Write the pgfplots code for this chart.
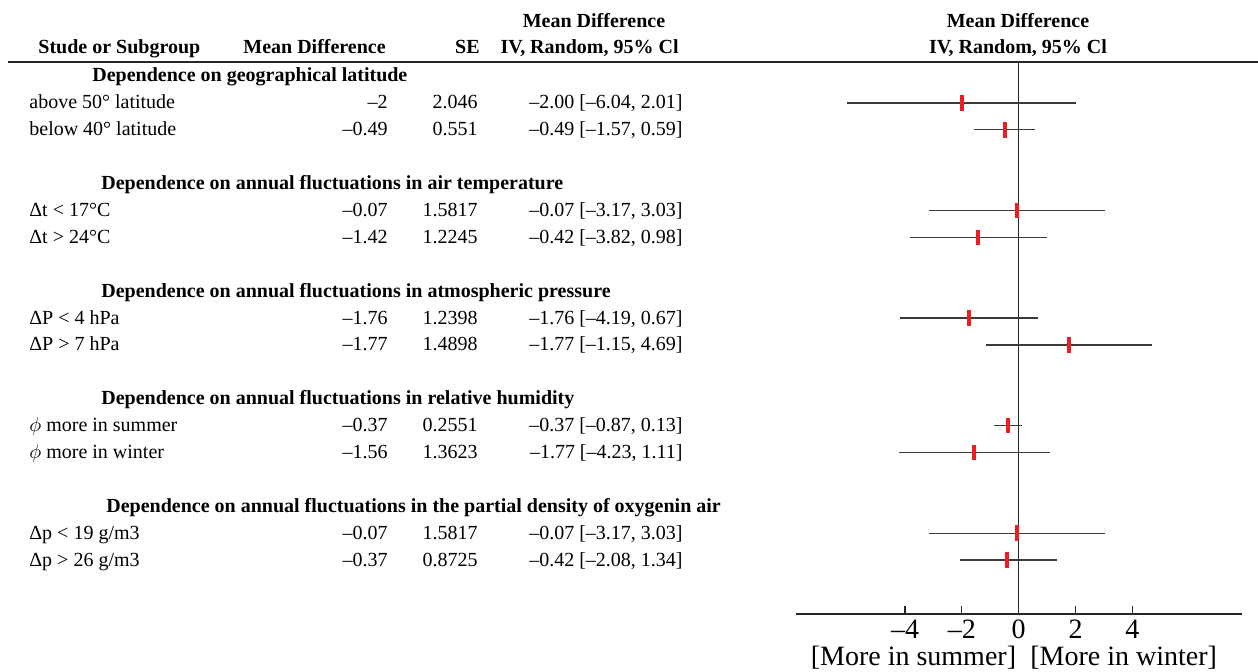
\documentclass[border=0pt]{standalone}
\usepackage{fontspec}
\setmainfont{Liberation Serif}
\usepackage{pgfplots}
\usepackage{pgfplotstable}
\pgfplotsset{compat=1.18}
\definecolor{cired}{HTML}{EE1D23}
\definecolor{cigray}{HTML}{3A3A3A}

% row index, plotted point, lower and upper CI
\pgfplotstableread{
y    pt     lo     hi
-1   -2.00  -6.04  2.01
-2   -0.49  -1.57  0.59
-5   -0.07  -3.17  3.03
-6   -1.42  -3.82  0.98
-9   -1.76  -4.19  0.67
-10   1.77  -1.15  4.69
-13  -0.37  -0.87  0.13
-14  -1.56  -4.23  1.11
-17  -0.07  -3.17  3.03
-18  -0.42  -2.08  1.34
}\forestdata

\begin{document}
\begin{tikzpicture}
\begin{axis}[
  x=14.2pt, y=13.45pt,
  xmin=-7.85, xmax=7.85, ymin=-20, ymax=0.52,
  axis x line*=bottom, axis y line=none,
  xtick={-4,-2,0,2,4},
  xticklabels={\textendash4,\textendash2,0,2,4},
  tick align=inside, major tick length=4pt,
  tick style={line width=0.6pt, color=black!85},
  axis line style={line width=0.6pt, color=black!85},
  xticklabel style={font=\fontsize{14}{16}\selectfont, anchor=base, inner sep=0pt, yshift=-12.5pt},
  clip=false,
]
\addplot[black!85, line width=0.65pt, forget plot] coordinates {(0,0.52) (0,-20)};
\addplot[draw=none, mark=none, forget plot,
  error bars/.cd, x dir=both, x explicit, error mark=none,
  error bar style={line width=0.7pt, draw=cigray}]
  table[x=pt, y=y,
        x error plus expr=\thisrow{hi}-\thisrow{pt},
        x error minus expr=\thisrow{pt}-\thisrow{lo}] {\forestdata};
\addplot[only marks, draw=cired, mark=|, mark size=3.9pt,
  mark options={line width=2pt, draw=cired, solid}]
  table[x=pt, y=y] {\forestdata};
\coordinate (O) at (axis cs:-35.870,2.8253);
\end{axis}
\begin{scope}[shift={(O)}, x=0.5pt, y=-0.5pt, every node/.style={inner sep=0pt, font=\fontsize{10}{12}\selectfont}]
  % headers
  \node[anchor=base] at (594,28) {\bfseries Mean Difference};
  \node[anchor=base] at (1018,28) {\bfseries Mean Difference};
  \node[anchor=base west] at (38,54) {\bfseries Stude or Subgroup};
  \node[anchor=base west] at (243,54) {\bfseries Mean Difference};
  \node[anchor=base east] at (480,54) {\bfseries SE};
  \node[anchor=base east] at (679,54) {\bfseries IV, Random, 95\% Cl};
  \node[anchor=base] at (1018,54) {\bfseries IV, Random, 95\% Cl};
  \draw[line width=0.8pt, black!85] (8,62) -- (1258,62);
  % group headings
  \node[anchor=base west] at (92,{76+26.9*0+6}) {\bfseries Dependence on geographical latitude};
  \node[anchor=base west] at (101,{76+26.9*4+6}) {\bfseries Dependence on annual fluctuations in air temperature};
  \node[anchor=base west] at (101,{76+26.9*8+6}) {\bfseries Dependence on annual fluctuations in atmospheric pressure};
  \node[anchor=base west] at (101,{76+26.9*12+6}) {\bfseries Dependence on annual fluctuations in relative humidity};
  \node[anchor=base west] at (106,{76+26.9*16+6}) {\bfseries Dependence on annual fluctuations in the partial density of oxygenin air};
  % rows
  \foreach \r/\lab/\md/\se/\ci in {
    1/{above 50° latitude}/{\textendash2}/{2.046}/{\textendash2.00 [\textendash6.04, 2.01]},
    2/{below 40° latitude}/{\textendash0.49}/{0.551}/{\textendash0.49 [\textendash1.57, 0.59]},
    5/{Δt < 17°C}/{\textendash0.07}/{1.5817}/{\textendash0.07 [\textendash3.17, 3.03]},
    6/{Δt > 24°C}/{\textendash1.42}/{1.2245}/{\textendash0.42 [\textendash3.82, 0.98]},
    9/{ΔP < 4 hPa}/{\textendash1.76}/{1.2398}/{\textendash1.76 [\textendash4.19, 0.67]},
    10/{ΔP > 7 hPa}/{\textendash1.77}/{1.4898}/{\textendash1.77 [\textendash1.15, 4.69]},
    13/{$\phi$ more in summer}/{\textendash0.37}/{0.2551}/{\textendash0.37 [\textendash0.87, 0.13]},
    14/{$\phi$ more in winter}/{\textendash1.56}/{1.3623}/{\textendash1.77 [\textendash4.23, 1.11]},
    17/{Δp < 19 g/m3}/{\textendash0.07}/{1.5817}/{\textendash0.07 [\textendash3.17, 3.03]},
    18/{Δp > 26 g/m3}/{\textendash0.37}/{0.8725}/{\textendash0.42 [\textendash2.08, 1.34]}}{
    \node[anchor=base west] at (29,{76+26.9*\r+6}) {\lab};
    \node[anchor=base east] at (388,{76+26.9*\r+6}) {\md};
    \node[anchor=base east] at (478,{76+26.9*\r+6}) {\se};
    \node[anchor=base east] at (683,{76+26.9*\r+6}) {\ci};
  }
  % bottom labels
  \node[anchor=base east, font=\fontsize{14}{16}\selectfont] at (1016.5,666) {[More in summer]};
  \node[anchor=base west, font=\fontsize{14}{16}\selectfont] at (1030,666) {[More in winter]};
\end{scope}
\pgfresetboundingbox
\path[use as bounding box] (O) rectangle ++(629pt,-336pt);
\end{tikzpicture}
\end{document}
